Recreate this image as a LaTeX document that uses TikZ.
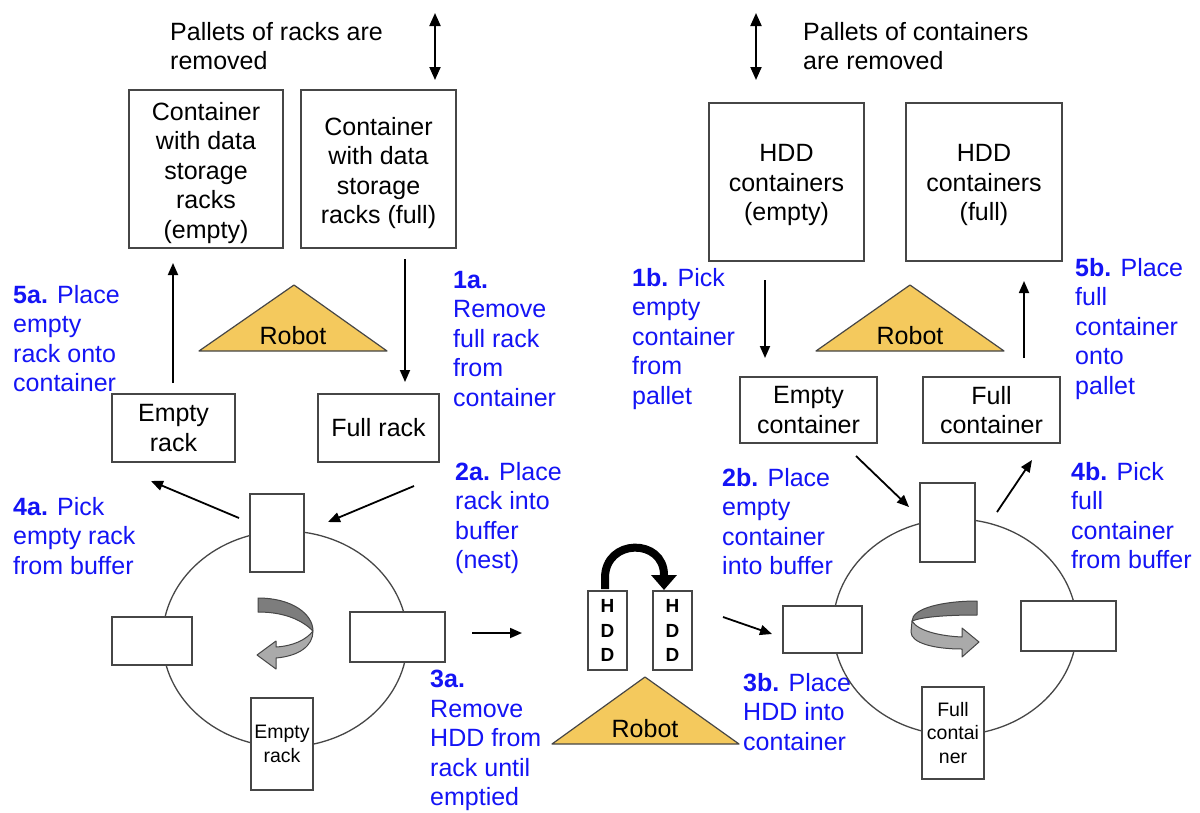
\documentclass[tikz,border=0pt]{standalone}
\usepackage{fontspec}
\setmainfont{Liberation Sans}
\usetikzlibrary{arrows.meta}
\definecolor{labelblue}{RGB}{20,20,245}
\definecolor{robotfill}{RGB}{244,201,93}
\definecolor{boxline}{RGB}{70,70,70}
\definecolor{ribbondark}{RGB}{125,125,125}
\definecolor{ribbonlight}{RGB}{170,170,170}
\begin{document}
\begin{tikzpicture}[x=1pt,y=-1pt,
  big/.style={font=\fontsize{25}{29.5}\selectfont},
  box/.style={draw=boxline, fill=white, line width=1.3pt, inner sep=0pt, align=center, big},
  smallbox/.style={box, font=\fontsize{19.5}{23.5}\selectfont},
  hddbox/.style={box, font=\fontsize{19}{24.5}\selectfont\bfseries},
  lbl/.style={anchor=north west, inner sep=0pt, align=left, text=labelblue, big},
  note/.style={anchor=north west, inner sep=0pt, align=left, big},
  flow/.style={line width=1.8pt, -{Triangle[length=12pt,width=10pt]}},
  twoway/.style={line width=2pt, {Triangle[length=13pt,width=11pt]}-{Triangle[length=13pt,width=11pt]}},
  robot/.style={fill=robotfill, draw=boxline, line width=1.2pt, line join=round},
  ring/.style={draw=boxline, line width=1.3pt},
  ribbon/.style={draw=boxline, line width=1pt, line join=round}]

\useasboundingbox[fill=white] (0,0) rectangle (1200,812);

% ---------- rack side ----------
\node[note] (palletsL) at (170,22) {Pallets of racks are\\removed};
\coordinate (dL1) at (435,13); \coordinate (dL2) at (435,80);
\draw[twoway] (dL1) -- (dL2);

\draw[draw=boxline, line width=1.3pt] (129,90) rectangle (283,248);
\node[big, align=center] (crEmpty) at (206,173) {Container\\with data\\storage\\racks\\(empty)};
\draw[draw=boxline, line width=1.3pt] (301,90) rectangle (456,248);
\node[big, align=center] (crFull) at (378.5,173) {Container\\with data\\storage\\racks (full)};

\draw[robot] (294,285) -- (387,351) -- (199,351) -- cycle;
\node[big] (robotA) at (293,336) {Robot};

\node[box, minimum width=123pt, minimum height=68pt] (emptyRack) at (173.5,428) {Empty\\rack};
\node[box, minimum width=121pt, minimum height=68pt] (fullRack) at (378.5,428) {Full rack};

\coordinate (a1s) at (405,259); \coordinate (a1e) at (405,382);
\draw[flow] (a1s) -- (a1e);
\coordinate (a5s) at (173,383); \coordinate (a5e) at (173,263);
\draw[flow] (a5s) -- (a5e);

\node[lbl] (l5a) at (13,285) {\textbf{5a.} Place\\empty\\rack onto\\container};
\node[lbl] (l1a) at (453,271) {\textbf{1a.}\\Remove\\full rack\\from\\container};

% rack buffer ring
\draw[ring] (285,639) ellipse [x radius=122.5pt, y radius=108pt];
\node[box, minimum width=54pt, minimum height=78pt] (bufTopA) at (277,533) {};
\node[box, minimum width=80pt, minimum height=48pt] (bufLeftA) at (152,641) {};
\node[box, minimum width=95pt, minimum height=50pt] (bufRightA) at (397.5,637) {};
\node[smallbox, minimum width=62pt, minimum height=92pt] (bufBotA) at (282,744) {Empty\\rack};

\fill[ribbondark, ribbon] (258,598) .. controls (292,598) and (313,614) .. (313,631)
  .. controls (303,621) and (286,612) .. (258,612) -- cycle;
\fill[ribbonlight, ribbon] (313,631) .. controls (313,646) and (299,656) .. (276,658)
  -- (276,669) -- (257,655) -- (276,641) -- (276,647)
  .. controls (293,646) and (306,640) .. (313,631) -- cycle;

\coordinate (a2s) at (414,486); \coordinate (a2e) at (328,522);
\draw[flow] (a2s) -- (a2e);
\coordinate (a4s) at (239,518); \coordinate (a4e) at (151,481);
\draw[flow] (a4s) -- (a4e);

\node[lbl] (l2a) at (455,462) {\textbf{2a.} Place\\rack into\\buffer\\(nest)};
\node[lbl] (l4a) at (13,497) {\textbf{4a.} Pick\\empty rack\\from buffer};

% ---------- HDD transfer ----------
\coordinate (a3s) at (472,633); \coordinate (a3e) at (522,633);
\draw[flow] (a3s) -- (a3e);

\node[hddbox, minimum width=39pt, minimum height=79pt] (hddA) at (607.5,630.5) {H\\D\\D};
\node[hddbox, minimum width=39pt, minimum height=79pt] (hddB) at (672.5,630.5) {H\\D\\D};
\coordinate (arcS) at (605,589);
\coordinate (arcE) at (664,590);
\draw[line width=8pt, -{Triangle[length=15pt,width=25pt]}]
  (arcS) -- (605,578) .. controls (605,538) and (664,538) .. (664,575) -- (arcE);

\draw[robot] (645,677) -- (739,744) -- (552,744) -- cycle;
\node[big] (robotC) at (645,729) {Robot};

\coordinate (a3bs) at (723,617); \coordinate (a3be) at (772,634);
\draw[flow] (a3bs) -- (a3be);

\node[lbl] (l3a) at (430,670) {\textbf{3a.}\\Remove\\HDD from\\rack until\\emptied};
\node[lbl] (l3b) at (743,673) {\textbf{3b.} Place\\HDD into\\container};

% ---------- container side ----------
\coordinate (dR1) at (756,13); \coordinate (dR2) at (756,80);
\draw[twoway] (dR1) -- (dR2);
\node[note] (palletsR) at (803,22) {Pallets of containers\\are removed};

\draw[draw=boxline, line width=1.3pt] (709,103) rectangle (864,261);
\node[big, align=center] (hcEmpty) at (786.5,185) {HDD\\containers\\(empty)};
\draw[draw=boxline, line width=1.3pt] (906,103) rectangle (1062,261);
\node[big, align=center] (hcFull) at (984,185) {HDD\\containers\\(full)};

\draw[robot] (910,285) -- (1004,351) -- (816,351) -- cycle;
\node[big] (robotB) at (910,336) {Robot};

\node[box, minimum width=137pt, minimum height=66pt] (emptyCont) at (808.5,410) {Empty\\container};
\node[box, minimum width=137pt, minimum height=66pt] (fullCont) at (991.5,410) {Full\\container};

\coordinate (b1s) at (765,280); \coordinate (b1e) at (765,358);
\draw[flow] (b1s) -- (b1e);
\coordinate (b5s) at (1024,358); \coordinate (b5e) at (1024,281);
\draw[flow] (b5s) -- (b5e);

\node[lbl] (l1b) at (632,268) {\textbf{1b.} Pick\\empty\\container\\from\\pallet};
\node[lbl] (l5b) at (1075,258) {\textbf{5b.} Place\\full\\container\\onto\\pallet};

% container buffer ring
\draw[ring] (955,627) ellipse [x radius=122pt, y radius=108pt];
\node[box, minimum width=55pt, minimum height=79pt] (bufTopB) at (947.5,522.5) {};
\node[box, minimum width=79pt, minimum height=47pt] (bufLeftB) at (822.5,629.5) {};
\node[box, minimum width=95pt, minimum height=50pt] (bufRightB) at (1068.5,626) {};
\node[smallbox, minimum width=62pt, minimum height=92pt] (bufBotB) at (953,733) {Full\\contai\\ner};

\fill[ribbondark, ribbon] (977,601) .. controls (944,601) and (912,608) .. (912,621)
  .. controls (922,617) and (945,615) .. (977,615) -- cycle;
\fill[ribbonlight, ribbon] (912,621) .. controls (918,631) and (940,636) .. (962,637)
  -- (962,628) -- (979,642) -- (962,657) -- (962,649)
  .. controls (934,649) and (911,643) .. (911,632) -- cycle;

\coordinate (b2s) at (856,456); \coordinate (b2e) at (909,507);
\draw[flow] (b2s) -- (b2e);
\coordinate (b4s) at (997,512); \coordinate (b4e) at (1032,460);
\draw[flow] (b4s) -- (b4e);

\node[lbl] (l2b) at (722,468) {\textbf{2b.} Place\\empty\\container\\into buffer};
\node[lbl] (l4b) at (1071,462) {\textbf{4b.} Pick\\full\\container\\from buffer};

\end{tikzpicture}
\end{document}
